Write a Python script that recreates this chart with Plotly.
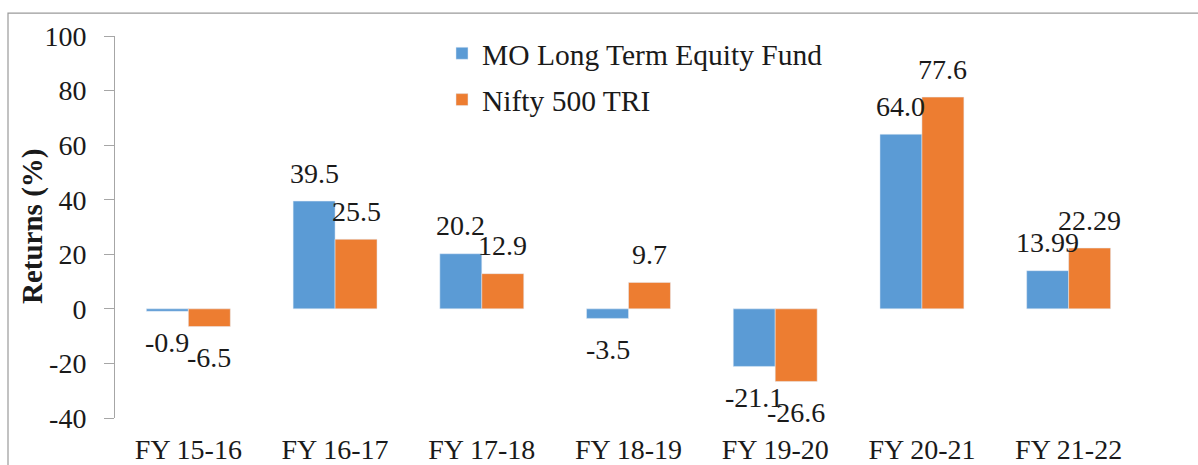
import plotly.graph_objects as go

categories = ["FY 15-16", "FY 16-17", "FY 17-18", "FY 18-19", "FY 19-20", "FY 20-21", "FY 21-22"]
fund_values = [-0.9, 39.5, 20.2, -3.5, -21.1, 64.0, 13.99]
index_values = [-6.5, 25.5, 12.9, 9.7, -26.6, 77.6, 22.29]
fund_labels = ["-0.9", "39.5", "20.2", "-3.5", "-21.1", "64.0", "13.99"]
index_labels = ["-6.5", "25.5", "12.9", "9.7", "-26.6", "77.6", "22.29"]
fund_name = "MO Long Term Equity Fund"
index_name = "Nifty 500 TRI"
y_title = "Returns (%)"
y_ticks = [-40, -20, 0, 20, 40, 60, 80, 100]
y_tick_text = ["-40", "-20", "0", "20", "40", "60", "80", "100"]

FONT = "'Liberation Serif', Tinos, 'Times New Roman', 'DejaVu Serif', serif"
FS = 28
BLUE = "#5B9BD5"
ORANGE = "#ED7D31"
AXIS = "#A6A6A6"
TXT = "#1a1a1a"

fig = go.Figure()
fig.add_trace(go.Bar(x=categories, y=fund_values, name=fund_name, marker_color=BLUE,
                     legendgroup="a", cliponaxis=False))
fig.add_trace(go.Bar(x=categories, y=index_values, name=index_name, marker_color=ORANGE,
                     legendgroup="b", cliponaxis=False))

annotations = []
for vals, labels, dx in ((fund_values, fund_labels, -21), (index_values, index_labels, 21)):
    for c, v, t in zip(categories, vals, labels):
        annotations.append(dict(x=c, y=v, xref="x", yref="y", text=t, showarrow=False,
                                xshift=dx, yshift=28 if v >= 0 else -31,
                                yanchor="middle", xanchor="center",
                                font=dict(family=FONT, size=FS, color=TXT)))
# y-axis title placed like the reference (close to the tick labels)
annotations.append(dict(x=(32 - 115) / 1027, y=0.5, xref="paper", yref="paper",
                        text="<b>" + y_title + "</b>", textangle=-90, showarrow=False,
                        xanchor="center", yanchor="middle",
                        font=dict(family=FONT, size=29, color=TXT)))

fig.update_layout(
    width=1198, height=465,
    margin=dict(l=115, r=56, t=36, b=47, autoexpand=False),
    paper_bgcolor="white", plot_bgcolor="white",
    barmode="group", bargap=0.428, bargroupgap=0,
    font=dict(family=FONT, size=FS, color=TXT),
    showlegend=True,
    legend=dict(x=0.3184, y=1.022, xanchor="left", yanchor="top",
                font=dict(family=FONT, size=29.5, color=TXT),
                bgcolor="rgba(0,0,0,0)", traceorder="grouped", tracegroupgap=5),
    annotations=annotations,
    xaxis=dict(type="category", categoryorder="array", categoryarray=categories,
               showline=False, ticks="", showgrid=False, zeroline=False, automargin=False,
               tickfont=dict(family=FONT, size=FS, color=TXT), ticklabelstandoff=12,
               range=[-0.5, 6.5]),
    xaxis2=dict(overlaying="x", anchor="free", position=40 / 140, side="bottom",
                range=[-0.5, 6.5], tickmode="array", automargin=False,
                tickvals=[-0.5, 0.5, 1.5, 2.5, 3.5, 4.5, 5.5, 6.5],
                showticklabels=False, ticks="outside", ticklen=9, tickcolor=AXIS,
                tickwidth=1, showline=True, linecolor=AXIS, linewidth=1,
                showgrid=False, zeroline=False),
    yaxis=dict(range=[-40, 100], tickmode="array", tickvals=y_ticks, ticktext=y_tick_text,
               showline=True, linecolor=AXIS, linewidth=1, ticks="outside", automargin=False,
               ticklen=10, tickcolor=AXIS, showgrid=False, zeroline=False,
               tickfont=dict(family=FONT, size=FS, color=TXT), ticklabelstandoff=12),
    shapes=[dict(type="rect", xref="paper", yref="paper",
                 x0=(8 - 115) / 1027, x1=(1205 - 115) / 1027,
                 y0=(418 - 475) / 383, y1=(418 - 12) / 383,
                 line=dict(color="#9a9a9a", width=1.2), fillcolor="rgba(0,0,0,0)", layer="below")],
)

post = (
    "document.body.style.margin='0';document.body.style.overflow='hidden';"
    "var gd=document.getElementById('{plot_id}');"
    "if(document.fonts){Promise.all([document.fonts.load('28px \"Liberation Serif\"'),"
    "document.fonts.load('bold 28px \"Liberation Serif\"')]).then(function(){Plotly.redraw(gd);});}"
)
fig.write_html("out.html", config={"displayModeBar": False}, post_script=post)
